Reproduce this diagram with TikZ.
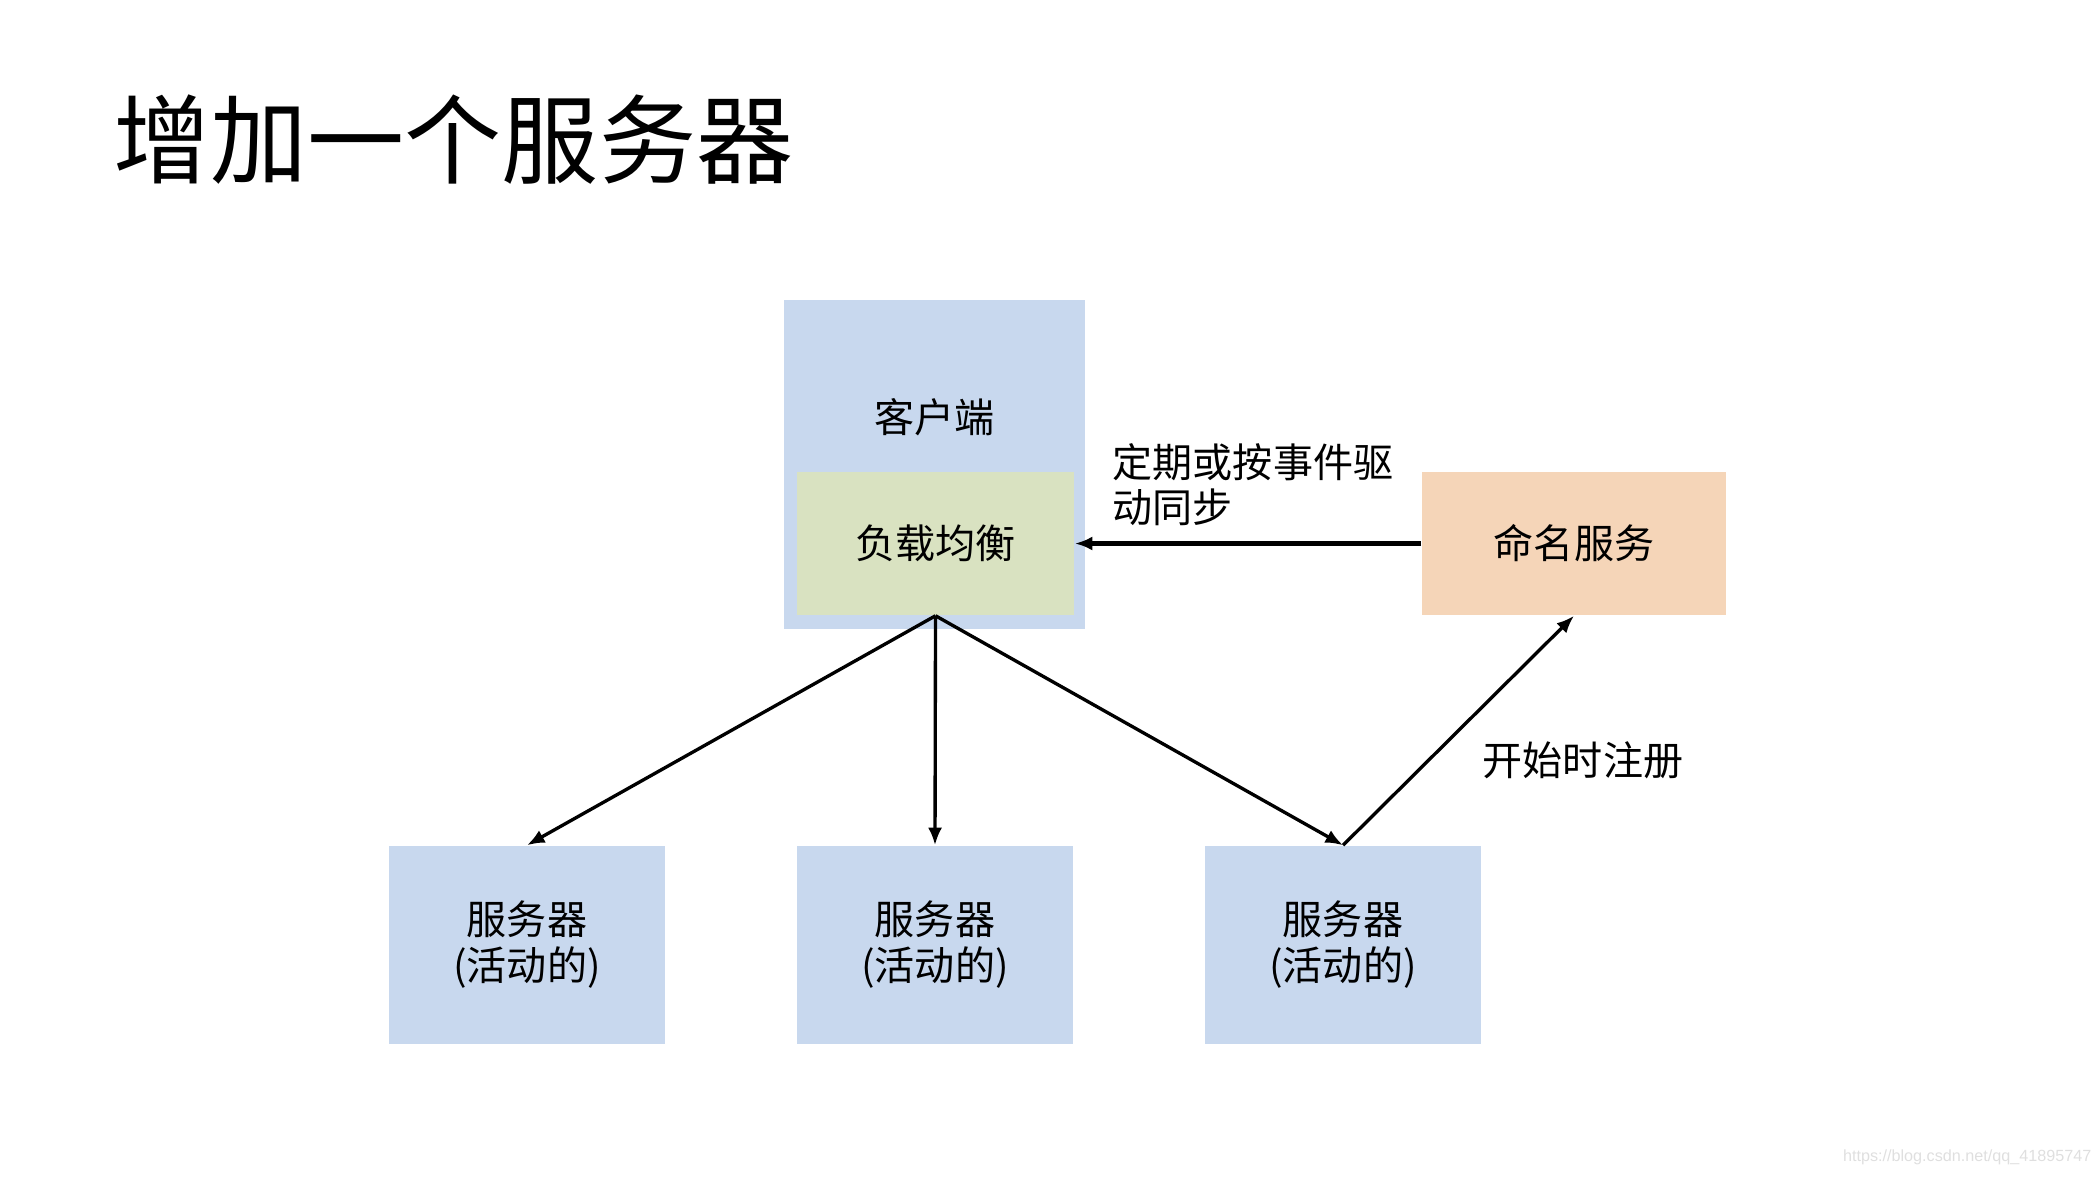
\documentclass[tikz,border=0pt]{standalone}
\usepackage{fontspec}
\setmainfont{Noto Sans CJK SC}
\newfontfamily\marksans{Liberation Sans}
\usetikzlibrary{arrows.meta}
\definecolor{boxblue}{RGB}{200,216,238}
\definecolor{boxgreen}{RGB}{217,226,193}
\definecolor{boxorange}{RGB}{245,213,184}
\tikzset{
  blk/.style={fill=#1, inner sep=0pt, align=center, font=\fontsize{11.4}{13.1}\selectfont},
  txt/.style={inner sep=0pt, align=left, font=\fontsize{11.4}{12.8}\selectfont},
  arr/.style={-{Latex[length=5pt,width=4pt]}, line width=0.95pt},
}

\begin{document}
\begin{tikzpicture}[x=0.01cm,y=-0.01cm]
\useasboundingbox (0,0) rectangle (2098,1176);
\node[anchor=west,inner sep=0pt,font=\fontsize{27.6}{32}\selectfont] (title) at (113,140) {增加一个服务器};
\node[blk=boxblue,minimum width=3.01cm,minimum height=3.29cm] (client) at (934.5,464.5) {};
\node[txt] (clientname) at (934.5,417) {客户端};
\node[blk=boxgreen,minimum width=2.77cm,minimum height=1.43cm] (lb) at (935.5,543.5) {负载均衡};
\node[blk=boxorange,minimum width=3.04cm,minimum height=1.43cm] (naming) at (1574,543.5) {命名服务};
\node[blk=boxblue,minimum width=2.76cm,minimum height=1.98cm] (srv1) at (527,945) {服务器\\(活动的)};
\node[blk=boxblue,minimum width=2.76cm,minimum height=1.98cm] (srv2) at (935,945) {服务器\\(活动的)};
\node[blk=boxblue,minimum width=2.76cm,minimum height=1.98cm] (srv3) at (1343,945) {服务器\\(活动的)};
\node[txt,anchor=west] (synclabel) at (1112,485) {定期或按事件驱\\动同步};
\node[txt,anchor=west] (reglabel) at (1482,760) {开始时注册};
\node[anchor=east,inner sep=0pt,text=gray!25,font=\marksans\fontsize{4.6}{5}\selectfont] (mark) at (2092,1157) {https://blog.csdn.net/qq\_41895747};
\draw[arr] (lb.south) -- (srv1.north);
\draw[arr] (lb.south) -- (srv2.north);
\draw[arr] (lb.south) -- (srv3.north);
\draw[arr] (srv3.north) -- (naming.south);
\draw[arr,line width=1.3pt] (naming.west) -- (lb.east);
\end{tikzpicture}
\end{document}
